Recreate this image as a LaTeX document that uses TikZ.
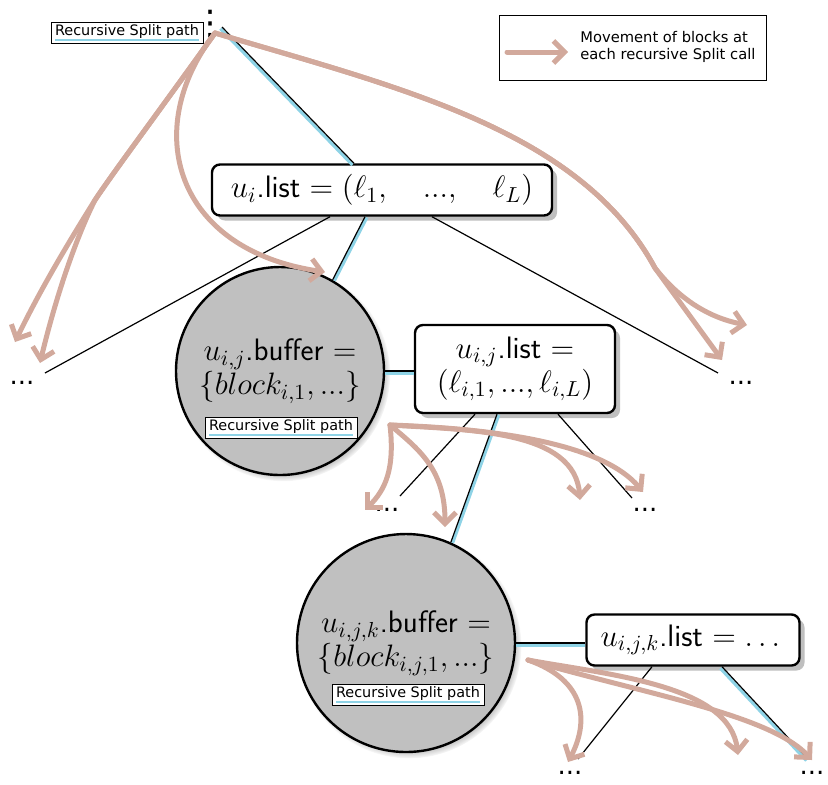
\RequirePackage{fix-cm}
\documentclass[tikz,border=0pt]{standalone}
\usepackage{fontspec}
\usepackage{amsmath}
\usetikzlibrary{arrows.meta,shadows}
\newfontfamily\labelfont{DejaVu Sans}
\definecolor{movebrown}{HTML}{D2A99C}
\definecolor{pathblue}{HTML}{8ED3E6}
\definecolor{buffergray}{HTML}{C0C0C0}
\newcommand{\blueunder}[1]{\setbox0\hbox{#1}\rlap{\color{pathblue}\rule[-3pt]{\wd0}{1.3pt}}\box0}
\tikzset{
	listbox/.style={draw, very thick, rounded corners=4pt, fill=white, align=center, inner sep=2pt,
		drop shadow={shadow xshift=2.5pt, shadow yshift=-2.5pt, opacity=1, fill=black!25}},
	bufferball/.style={circle, draw, very thick, fill=buffergray, inner sep=0pt, align=center,
		circular drop shadow={shadow scale=1.03, shadow xshift=1.5pt, shadow yshift=-1.5pt}},
	splitlabel/.style={draw, thin, fill=white, inner xsep=2pt, inner ysep=1.2pt,
		font=\labelfont\fontsize{7.2}{8}\selectfont},
	dotsnode/.style={inner sep=0pt, font=\labelfont\fontsize{13}{13}\selectfont},
	move/.style={movebrown, line width=2.5pt, line cap=round, line join=round,
		-{Straight Barb[length=5.5pt,width=11pt]}},
	pathline/.style={preaction={draw=pathblue, line width=1.6pt, transform canvas={shift={#1}}}, draw, semithick},
}

\begin{document}
\begin{tikzpicture}[x=0.5pt, y=-0.5pt, font=\fontsize{15.5}{17}\selectfont]
	\useasboundingbox (0,0) rectangle (828,784);

	%legend
	\node[draw, minimum width=133.5pt, minimum height=32.5pt] (legend) at (632.5,47.5) {};
	\node[anchor=west, align=left, inner sep=0pt, font=\labelfont\fontsize{7.35}{8.5}\selectfont] (legendtext) at (580,46.5)
		{Movement of blocks at\\each recursive Split call};
	\draw[move] (507,52) -- (568,52);

	%nodes
	\node[dotsnode, font=\labelfont\fontsize{17}{17}\selectfont] (root) at (210,24) {⋮};
	\node[splitlabel] (rootlabel) at (127,33) {\blueunder{Recursive Split path}};
	\node[listbox, minimum width=170pt, minimum height=25.5pt] (ulist) at (382,190)
		{$u_i$\textsf{.list} $= (\ell_1, \quad ..., \quad \ell_L)$};
	\node[bufferball, minimum size=104pt] (bufij) at (280,371)
		{$u_{i,j}$\textsf{.buffer} $=$\\$\{block_{i,1}, ...\}$};
	\node[splitlabel] (ijlabel) at (281,428) {\blueunder{Recursive Split path}};
	\node[listbox, minimum width=100pt, minimum height=44pt] (ijlist) at (515,369)
		{$u_{i,j}$\textsf{.list} $=$\\$(\ell_{i,1}, ..., \ell_{i,L})$};
	\node[bufferball, minimum size=109pt] (bufijk) at (406,643)
		{$u_{i,j,k}$\textsf{.buffer} $=$\\$\{block_{i,j,1}, ...\}$};
	\node[splitlabel] (ijklabel) at (408,695) {\blueunder{Recursive Split path}};
	\node[listbox, minimum width=106.5pt, minimum height=25.5pt] (ijklist) at (693,640)
		{$u_{i,j,k}$\textsf{.list} $= \dots$};

	%dots
	\node[dotsnode] (ileft) at (22,383) {...};
	\node[dotsnode] (iright) at (741,383) {...};
	\node[dotsnode] (ijleft) at (387,510) {...};
	\node[dotsnode] (ijright) at (645,510) {...};
	\node[dotsnode] (ijkleft) at (570,773) {...};
	\node[dotsnode] (ijkright) at (812,773) {...};

	%tree lines
	\draw[pathline={(-0.8pt,-0.8pt)}] ([shift={(12,3)}]root.center) -- ([shift={(-28,0)}]ulist.north);
	\draw[semithick] ([shift={(-52,0)}]ulist.south) -- ([shift={(23,-8)}]ileft.north);
	\draw[pathline={(0.9pt,-0.4pt)}] ([shift={(-17,0)}]ulist.south) -- (bufij.60);
	\draw[semithick] ([shift={(50,0)}]ulist.south) -- ([shift={(-23,-8)}]iright.north);
	\draw[pathline={(0pt,-1pt)}] (bufij.east) -- (ijlist.west |- bufij.east);
	\draw[semithick] ([shift={(-40,0)}]ijlist.south) -- ([shift={(13,-12)}]ijleft.north);
	\draw[pathline={(0.9pt,-0.3pt)}] ([shift={(-18,0)}]ijlist.south) -- (bufijk.66);
	\draw[semithick] ([shift={(43,0)}]ijlist.south) -- ([shift={(-13,-10)}]ijright.north);
	\draw[pathline={(0pt,-1pt)}] (bufijk.east) -- (ijklist.west |- bufijk.east);
	\draw[semithick] ([shift={(-41,0)}]ijklist.south) -- ([shift={(8,-12)}]ijkleft.north);
	\draw[pathline={(-0.8pt,-0.8pt)}] ([shift={(29,0)}]ijklist.south) -- ([shift={(-4,-12)}]ijkright.north);

	%movement of blocks
	\coordinate (fork1) at (215,33);
	\coordinate (fork2) at (390,425);
	\coordinate (fork3) at (528,660);
	\draw[move] (fork1) .. controls (160,110) and (115,170) .. (95,200) .. controls (70,240) and (40,290) .. (15,342);
	\draw[move] (fork1) .. controls (160,110) and (115,170) .. (95,200) .. controls (75,240) and (55,300) .. (40,363);
	\draw[move] (fork1) .. controls (140,130) and (175,250) .. (325,272);
	\draw[move] (fork1) .. controls (400,88) and (580,130) .. (655,268) .. controls (680,300) and (710,318) .. (747,325);
	\draw[move] (fork1) .. controls (400,88) and (580,130) .. (655,268) -- (722,360);
	\draw[move] (fork2) .. controls (395,470) and (385,490) .. (365,510);
	\draw[move] (fork2) .. controls (420,450) and (445,470) .. (445,527);
	\draw[move] (fork2) .. controls (470,430) and (575,430) .. (580,500);
	\draw[move] (fork2) .. controls (480,428) and (600,440) .. (643,492);
	\draw[move] (fork3) .. controls (585,680) and (590,720) .. (568,762);
	\draw[move] (fork3) .. controls (610,675) and (730,685) .. (738,755);
	\draw[move] (fork3) .. controls (650,695) and (770,715) .. (812,760);
\end{tikzpicture}
\end{document}
